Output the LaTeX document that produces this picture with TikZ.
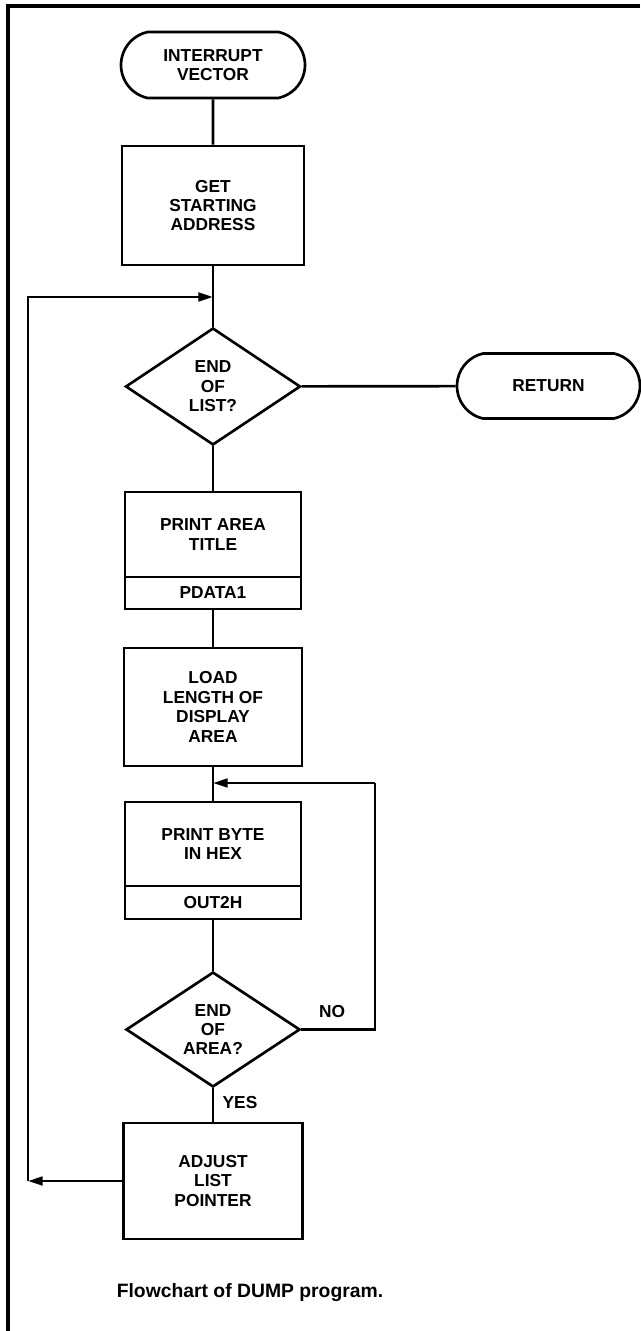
\documentclass[tikz,border=0pt]{standalone}
\usepackage{fontspec}
\setmainfont{Liberation Sans}
\usetikzlibrary{shapes.geometric,shapes.misc,arrows.meta}
\begin{document}
\begin{tikzpicture}[x=0.75pt,y=-0.75pt,
  every node/.style={font=\fontsize{13}{14.6}\selectfont\bfseries, inner sep=0pt, align=center},
  line/.style={line width=2pt},
  box/.style={draw, line width=2pt, rectangle},
  term/.style={draw, line width=2pt, rounded rectangle, rounded rectangle arc length=155},
  dec/.style={draw, line width=2pt, diamond},
  arr/.style={line width=2pt, -{Triangle[length=11pt,width=6.5pt]}},
]
\useasboundingbox (0,0) rectangle (640,1331);
% frame
\draw[line width=2.8pt] (640,6) -- (8,6) -- (8,1331);
% nodes
\node[term, minimum width=138pt, minimum height=49.5pt] (iv) at (213,65) {INTERRUPT\\VECTOR};
\node[box, minimum width=136.5pt, minimum height=89.25pt] (gsa) at (213,205.5) {GET\\STARTING\\ADDRESS};
\node[dec, minimum width=131.25pt, minimum height=87.75pt] (eol) at (213,386.5) {END\\OF\\LIST?};
\node[term, minimum width=137.25pt, minimum height=48.75pt] (ret) at (548.5,386) {RETURN};
\node[box, minimum width=132pt, minimum height=63.75pt] (pat) at (213,534.5) {PRINT AREA\\TITLE};
\node[box, minimum width=132pt, minimum height=24pt] (pd1) at (213,593) {PDATA1};
\node[box, minimum width=133.5pt, minimum height=88.5pt] (load) at (213,707) {LOAD\\LENGTH OF\\DISPLAY\\AREA};
\node[box, minimum width=132pt, minimum height=63pt] (pbh) at (213,844) {PRINT BYTE\\IN HEX};
\node[box, minimum width=132pt, minimum height=24.75pt] (o2h) at (213,902.5) {OUT2H};
\node[dec, minimum width=130.5pt, minimum height=86.25pt] (eoa) at (213,1029.5) {END\\OF\\AREA?};
\node[box, minimum width=134.25pt, minimum height=87pt] (adj) at (213,1181) {ADJUST\\LIST\\POINTER};
\node (no) at (332,1012) {NO};
\node (yes) at (240,1103) {YES};
\node[font=\fontsize{14.5}{17}\selectfont\bfseries] (cap) at (250,1293) {Flowchart of DUMP program.};
% junction coordinates
\coordinate (j1) at (213,297);
\coordinate (j2) at (213,783);
\coordinate (c1) at (28,1181);
\coordinate (c2) at (375,1029.5);
\coordinate (c3) at (375,783);
% connectors
\draw[line] (iv) -- (gsa);
\draw[line] (gsa) -- (eol);
\draw[line] (eol) -- (ret);
\draw[line] (eol) -- (pat);
\draw[line] (pd1) -- (load);
\draw[line] (load) -- (pbh);
\draw[line] (o2h) -- (eoa);
\draw[line] (eoa) -- (adj);
\draw[arr] (adj) -- (c1);
\draw[arr] (c1) |- (j1);
\draw[line] (eoa.east) -- (c2) -- (c3);
\draw[arr] (c3) -- (j2);
\end{tikzpicture}
\end{document}
